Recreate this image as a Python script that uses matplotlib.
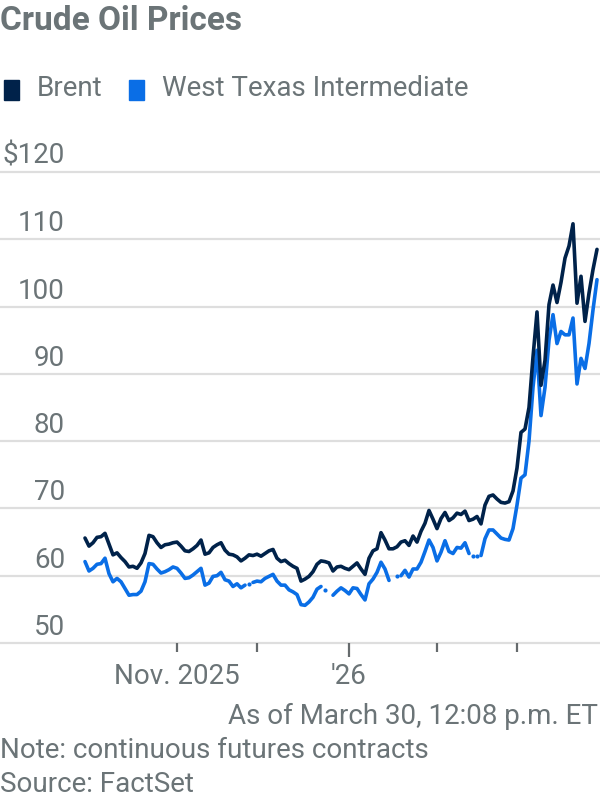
import numpy as np
import pandas as pd
import matplotlib
matplotlib.use("Agg")
import matplotlib.pyplot as plt
from matplotlib.patches import Rectangle
from matplotlib.transforms import blended_transform_factory, ScaledTranslation

# ---------------- data ----------------
dates = pd.bdate_range("2025-10-01", "2026-03-30")

brent = [
    65.6, 64.4, 64.9, 65.7, 65.8, 66.3, 64.7, 63.1, 63.4, 62.7,
    62.1, 61.3, 61.4, 61.1, 61.9, 63.3, 66.0, 65.8, 64.9, 64.2,
    64.6, 64.7, 64.9, 65.0, 64.4, 63.7, 63.6, 64.0, 64.5, 65.3,
    63.2, 63.4, 64.2, 64.6, 64.9, 63.8, 63.2, 63.1, 62.8, 62.2,
    62.6, 63.1, 63.0, 63.2, 62.9, 63.3, 63.7, 63.9, 62.6, 62.1,
    62.3, 61.8, 61.4, 61.1, 59.2, 59.5, 59.9, 60.6, 61.7, 62.2,
    62.1, 61.9, 60.7, 61.3, 61.4, 61.1, 60.9, 61.4, 61.9, 61.0,
    60.2, 62.6, 63.7, 64.0, 66.4, 65.3, 64.0, 64.0, 64.3, 65.0,
    65.2, 64.5, 65.9, 65.0, 66.6, 67.8, 69.7, 68.4, 67.0, 68.5,
    69.4, 68.2, 68.6, 69.3, 69.1, 69.6, 68.2, 68.4, 68.8, 67.7,
    70.5, 71.8, 72.0, 71.4, 70.9, 70.8, 71.0, 72.6, 76.0, 81.3,
    81.8, 85.0, 92.5, 99.2, 88.3, 92.0, 100.3, 103.2, 100.6, 103.6,
    107.2, 109.0, 112.3, 100.5, 104.5, 97.8, 102.0, 105.5, 108.5,
]

nan = np.nan
wti = [
    62.1, 60.7, 61.1, 61.7, 61.8, 62.6, 60.3, 59.1, 59.6, 59.1,
    58.1, 57.1, 57.2, 57.2, 57.7, 59.1, 61.8, 61.7, 61.0, 60.4,
    60.6, 60.9, 61.3, 61.1, 60.4, 59.6, 59.7, 60.1, 60.6, 61.1,
    58.6, 58.9, 59.9, 60.0, 60.5, 59.4, 59.2, 58.4, 58.8, 58.2,
    58.6, 58.8, 59.0, 59.2, 59.1, 59.6, 59.9, 60.2, 59.2, 58.6,
    58.6, 57.9, 57.6, 57.2, 55.7, 55.6, 56.1, 56.8, 58.0, 58.4,
    57.9, nan, 57.1, 57.7, 58.2, 57.8, 57.3, 58.2, 58.1, 57.2,
    56.4, 58.8, 59.5, 60.5, 62.0, 61.0, 59.3, nan, 60.0, 60.0,
    60.8, 59.8, 61.0, 61.0, 62.0, 63.6, 65.3, 64.2, 62.2, 63.5,
    65.2, 63.6, 63.3, 64.2, 64.1, 64.9, 63.3, 62.9, 63.0, 63.0,
    65.5, 66.8, 66.8, 66.2, 65.6, 65.4, 65.3, 67.0, 70.5, 74.5,
    75.0, 80.0, 88.0, 93.5, 83.8, 88.0, 95.0, 98.8, 94.5, 96.3,
    95.8, 95.8, 98.3, 88.5, 92.3, 90.8, 94.5, 99.5, 104.0,
]
# WTI points shown unconnected (around U.S. holidays)
wti_isolated = [41, 60, 78, 97, 98]

y_ticks = [50, 60, 70, 80, 90, 100, 110, 120]
y_labels = ["50", "60", "70", "80", "90", "100", "110", "$120"]
x_labels = {"2025-11": "Nov. 2025", "2026-01": "'26"}

# ---------------- style ----------------
BRENT_C = "#00224a"
WTI_C = "#0a6ee6"
GRAY = "#6b7477"
GRID = "#dedede"
FONT = ["Roboto", "DejaVu Sans"]
plt.rcParams["font.family"] = FONT
FS = 20

W, H = 600, 800
fig = plt.figure(figsize=(W / 100, H / 100), dpi=100)

y_top_px, y_bot_px = 172, 643
ax = fig.add_axes([0, (H - y_bot_px) / H, 1, (y_bot_px - y_top_px) / H])
x = np.arange(len(dates))
x0_px, step_px = 85, 4.0
ax.set_xlim(-x0_px / step_px, (W - x0_px) / step_px)
ax.set_ylim(50, 120)

for s in ax.spines.values():
    s.set_visible(False)
ax.set_yticks([])
ax.set_xticks([])

for v in y_ticks:
    ax.axhline(v, color=GRID, lw=1.6, zorder=0, clip_on=False)

trans = blended_transform_factory(ax.transAxes, ax.transData)
up = ScaledTranslation(0, 8 / 100, fig.dpi_scale_trans)
for v, lab in zip(y_ticks, y_labels):
    ax.text(65 / W, v, lab, transform=trans + up, ha="right", va="baseline",
            fontsize=FS, color=GRAY)

# month ticks
month_starts = [i for i in range(1, len(dates)) if dates[i].month != dates[i - 1].month]
transx = blended_transform_factory(ax.transData, ax.transAxes)
down = ScaledTranslation(0, -33 / 100, fig.dpi_scale_trans)
for i in month_starts:
    is_year = dates[i].month == 1
    ln = 14 if is_year else 8.5
    ax.plot([i, i], [0, -ln / (y_bot_px - y_top_px)], transform=transx,
            color="#666b6d", lw=1.6, clip_on=False, solid_capstyle="butt")
    key = dates[i].strftime("%Y-%m")
    if key in x_labels:
        ax.text(i, 0, x_labels[key], transform=transx + down, ha="center",
                va="center", fontsize=FS, color=GRAY)

wti_arr = np.array(wti, dtype=float)
wti_line = wti_arr.copy()
wti_line[wti_isolated] = np.nan
ax.plot(x, wti_line, color=WTI_C, lw=2.6, solid_capstyle="round",
        solid_joinstyle="round", zorder=3, clip_on=False)
ax.plot(x[wti_isolated], wti_arr[wti_isolated], "o", color=WTI_C, ms=3.0,
        mew=0, zorder=3, clip_on=False)
ax.plot(x, brent, color=BRENT_C, lw=2.6, solid_capstyle="round",
        solid_joinstyle="round", zorder=4, clip_on=False)

# ---------------- texts ----------------
fig.text(0, 1 - 5 / H, "Crude Oil Prices", ha="left", va="top",
         fontsize=24, fontweight="bold", color=GRAY)

def legend_item(x_px, color, label):
    fig.patches.append(Rectangle((x_px / W, 1 - 100 / H), 15 / W, 20 / H,
                                 transform=fig.transFigure, color=color))
    fig.text((x_px + 33) / W, 1 - 89 / H, label, ha="left", va="center",
             fontsize=FS, color=GRAY)

legend_item(4, BRENT_C, "Brent")
legend_item(129, WTI_C, "West Texas Intermediate")

fig.text(598 / W, 1 - 716 / H, "As of March 30, 12:08 p.m. ET", ha="right",
         va="center", fontsize=FS, color=GRAY)
fig.text(0, 1 - 750 / H, "Note: continuous futures contracts", ha="left",
         va="center", fontsize=FS, color=GRAY)
fig.text(0, 1 - 785 / H, "Source: FactSet", ha="left", va="center",
         fontsize=FS, color=GRAY)

fig.savefig("out.png", dpi=100)
